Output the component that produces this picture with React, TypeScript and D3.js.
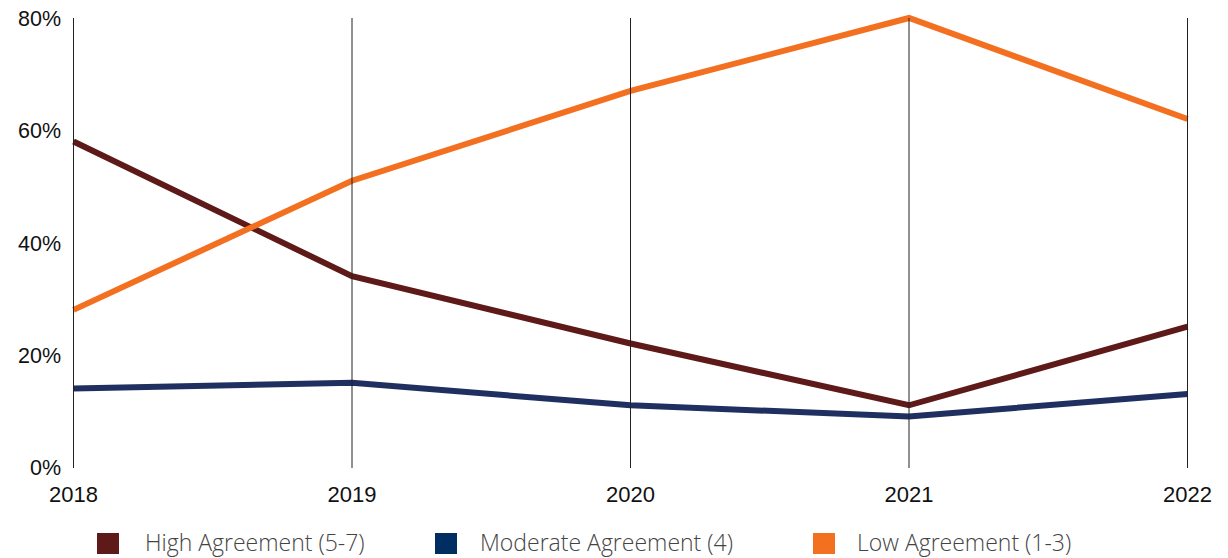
import React from "react";
import * as d3 from "d3";

const years = ["2018", "2019", "2020", "2021", "2022"];
const highAgreement = [58, 34, 22, 11, 25];
const moderateAgreement = [14, 15, 11, 9, 13];
const lowAgreement = [28, 51, 67, 80, 62];
const yTicks = [0, 20, 40, 60, 80];

const seriesNames = ["High Agreement (5-7)", "Moderate Agreement (4)", "Low Agreement (1-3)"];
const lineColors = ["#5e1a18", "#1f2f5f", "#f37021"];
const legendColors = ["#5e1a18", "#002d62", "#f37021"];

export default function App() {
  const width = 1228;
  const height = 558;
  const x = d3.scalePoint<string>().domain(years).range([73.5, 1187.5]);
  const y = d3.scaleLinear().domain([0, 80]).range([467, 18]);
  const all = [highAgreement, moderateAgreement, lowAgreement];
  const line = d3
    .line<number>()
    .x((_, i) => x(years[i]) as number)
    .y((d) => y(d));

  const legendX = [97, 435, 813];
  const legendTextX = [145, 480, 857];
  const font = "'Liberation Sans', Arial, sans-serif";

  return (
    <svg
      width={width}
      height={height}
      style={{ position: "absolute", left: 0, top: 0, background: "#fff" }}
    >
      {all.map((s, i) => (
        <path
          key={i}
          d={line(s) || ""}
          fill="none"
          stroke={lineColors[i]}
          strokeWidth={6}
          strokeLinejoin="miter"
        />
      ))}
      {years.map((yr) => (
        <line
          key={yr}
          x1={x(yr)}
          x2={x(yr)}
          y1={y(80)}
          y2={y(0) + 1}
          stroke="#222"
          strokeWidth={1}
        />
      ))}
      {yTicks.map((t) => (
        <text
          key={t}
          x={61}
          y={y(t) + 8}
          textAnchor="end"
          fontFamily={font}
          fontSize={21.5}
          fill="#111"
        >
          {t}%
        </text>
      ))}
      {years.map((yr) => (
        <text
          key={yr}
          x={x(yr)}
          y={502}
          textAnchor="middle"
          fontFamily={font}
          fontSize={22}
          fill="#111"
        >
          {yr}
        </text>
      ))}
      {seriesNames.map((n, i) => (
        <g key={n}>
          <rect x={legendX[i]} y={533} width={22} height={21} fill={legendColors[i]} />
          <text
            x={legendTextX[i]}
            y={551}
            fontFamily="'Open Sans', sans-serif"
            fontWeight={300}
            fontSize={23}
            fill="#444"
          >
            {n}
          </text>
        </g>
      ))}
    </svg>
  );
}
